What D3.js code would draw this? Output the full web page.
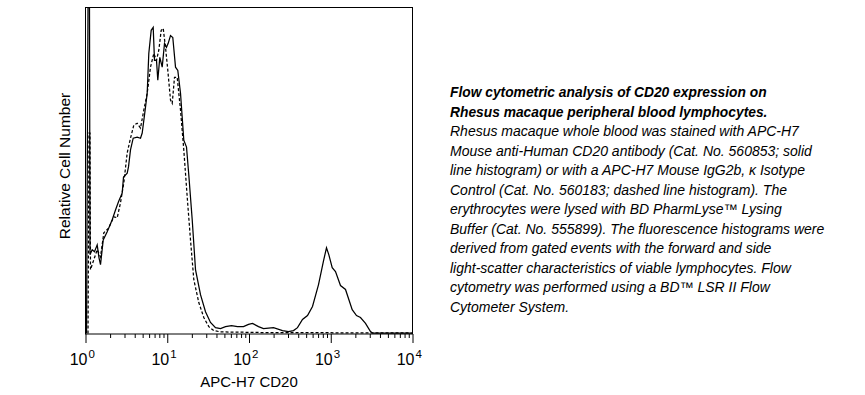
<!DOCTYPE html>
<html>
<head>
<meta charset="utf-8">
<script src="https://cdn.jsdelivr.net/npm/d3@7"></script>
<style>
  html, body { margin: 0; padding: 0; background: #fff; }
  svg { display: block; }
  text { font-family: "Liberation Sans", Arial, sans-serif; fill: #000; }
</style>
</head>
<body>
<svg id="chart" width="865" height="395"></svg>
<script>
// Fluorescence intensity (APC-H7 CD20) and relative cell number
const solidIntensity = [1.03,1.073,1.119,1.135,1.208,1.288,1.39,1.463,1.526,1.647,1.843,2.122,2.328,2.533,2.811,2.917,3.236,3.357,3.552,3.832,4.29,4.708,4.938,5.419,5.685,5.947,6.362,6.731,6.982,7.387,7.663,8.108,8.675,9.256,9.79,10.27,10.96,11.69,12.62,13.46,14.53,15.94,17.2,18.35,20.2,22.16,25.51,29.37,33.81,38.92,44.82,51.59,61.07,72.32,85.63,98.6,110.4,130.7,150.5,199.4,256.9,304.2,350.3,392,451.1,519.5,598.2,708.6,815.5,887.2,946.4,1042,1143,1316,1515,1830,2065,2311,2662,3064,3241,10000];
const solidCount = [0,100,100,24.2,25.7,25.1,27.2,23.2,21.1,28.7,31.2,34.9,37.9,40.4,43.1,48,49.2,51.1,56.3,59.9,60.2,59.9,61.5,69.4,73.7,85.9,93,93.9,83.8,83.8,77.7,84.7,81.7,89,87.8,89,91.4,90.8,81.7,80.7,73.7,59.3,57.2,48.6,34.9,19.6,11.9,6.7,3.4,1.8,1.5,2.1,2.4,2.1,2.1,2.8,3.1,2.1,1.5,1.8,0.9,0.6,0.9,1.8,4.3,5.5,8.3,15,22.3,26.3,24.2,20.2,19,14.7,13.5,7.3,5.5,4.9,3.1,0.6,0.15,0.15];

const dashedIntensity = [1.073,1.104,1.135,1.151,1.263,1.39,1.526,1.675,1.928,2.219,2.442,2.68,2.942,3.236,3.552,3.898,4.29,4.708,5.166,5.685,6.239,6.847,7.387,7.883,8.433,8.923,9.52,10.16,10.96,11.5,12.27,13.23,14.53,15.94,17.54,19.25,21.13,24.31,28,32.24,37.1,44.82,138.3,10000];
const dashedCount = [0,61.5,61.5,19.6,22.6,25.7,23.5,30.9,32.4,35.8,35.5,40.1,46.2,55.4,59.9,63.9,64.5,63,68.5,73.7,81.7,85.9,83.8,86.9,93,93.6,87.8,80.7,71.6,70.6,78.6,78.6,68.5,56.3,41.9,28.7,16.5,9.5,4.9,2.1,0.9,0.5,0.3,0.15];

const majorTicks = [1, 10, 100, 1000, 10000];
const majorExponents = ["0", "1", "2", "3", "4"];
const minorTicks = [2,3,4,5,6,7,8,9,20,30,40,50,60,70,80,90,200,300,400,500,600,700,800,900,2000,3000,4000,5000,6000,7000,8000,9000];

const xLabel = "APC-H7 CD20";
const yLabel = "Relative Cell Number";

const titleLines = [
  "Flow cytometric analysis of CD20 expression on",
  "Rhesus macaque peripheral blood lymphocytes."
];
const bodyLines = [
  "Rhesus macaque whole blood was stained with APC-H7",
  "Mouse anti-Human CD20 antibody (Cat. No. 560853; solid",
  "line histogram) or with a APC-H7 Mouse IgG2b, κ Isotype",
  "Control (Cat. No. 560183; dashed line histogram). The",
  "erythrocytes were lysed with BD PharmLyse™ Lysing",
  "Buffer (Cat. No. 555899). The fluorescence histograms were",
  "derived from gated events with the forward and side",
  "light-scatter characteristics of viable lymphocytes. Flow",
  "cytometry was performed using a BD™ LSR II Flow",
  "Cytometer System."
];

const svg = d3.select("#chart");
const pLeft = 85.5, pRight = 412.5, pTop = 7.5, pBottom = 334;

const x = d3.scaleLog().domain([1, 10000]).range([pLeft, pRight]);
const y = d3.scaleLinear().domain([0, 100]).range([pBottom - 0.5, pTop]);

svg.append("defs").append("clipPath").attr("id", "plotclip")
  .append("rect").attr("x", pLeft).attr("y", pTop).attr("width", pRight - pLeft).attr("height", pBottom - pTop);

const line = d3.line().x(d => x(d[0])).y(d => y(d[1]));
const solid = solidIntensity.map((v, i) => [v, solidCount[i]]);
const dashed = dashedIntensity.map((v, i) => [v, dashedCount[i]]);

const plot = svg.append("g").attr("clip-path", "url(#plotclip)");
plot.append("path").datum(dashed).attr("d", line)
  .attr("fill", "none").attr("stroke", "#000").attr("stroke-width", 1.25)
  .attr("stroke-dasharray", "3,2");
plot.append("path").datum(solid).attr("d", line)
  .attr("fill", "none").attr("stroke", "#000").attr("stroke-width", 1.25);

// frame
svg.append("rect").attr("x", pLeft).attr("y", pTop).attr("width", pRight - pLeft).attr("height", pBottom - pTop)
  .attr("fill", "none").attr("stroke", "#000").attr("stroke-width", 1);

// axes
const minorAxis = d3.axisBottom(x).tickValues(minorTicks).tickSize(4).tickFormat("");
const majorAxis = d3.axisBottom(x).tickValues(majorTicks).tickSize(9).tickFormat("");
const gMinor = svg.append("g").attr("transform", `translate(0,${pBottom})`).call(minorAxis);
const gMajor = svg.append("g").attr("transform", `translate(0,${pBottom})`).call(majorAxis);
[gMinor, gMajor].forEach(g => {
  g.select(".domain").remove();
  g.selectAll(".tick line").attr("stroke", "#000").attr("stroke-width", 1);
});

majorTicks.forEach((t, i) => {
  const tx = x(t);
  svg.append("text").attr("x", tx + 2).attr("y", 365)
    .attr("text-anchor", "end").style("font-size", "16px").text("10");
  svg.append("text").attr("x", tx + 3).attr("y", 358)
    .attr("text-anchor", "start").style("font-size", "11.5px").text(majorExponents[i]);
});

svg.append("text").attr("x", 249).attr("y", 387).attr("text-anchor", "middle")
  .style("font-size", "15px").text(xLabel);
svg.append("text").attr("transform", "translate(69.5,166) rotate(-90)")
  .attr("text-anchor", "middle").style("font-size", "15.5px").text(yLabel);

// caption
const capX = 450, capY0 = 97.3, lh = 19.5;
titleLines.forEach((t, i) => {
  svg.append("text").attr("x", capX).attr("y", capY0 + i * lh)
    .style("font-size", "13.8px").style("font-weight", "bold").style("font-style", "italic").text(t);
});
bodyLines.forEach((t, i) => {
  svg.append("text").attr("x", capX).attr("y", capY0 + (i + 2) * lh)
    .style("font-size", "14px").style("font-style", "italic").text(t);
});
</script>
</body>
</html>
